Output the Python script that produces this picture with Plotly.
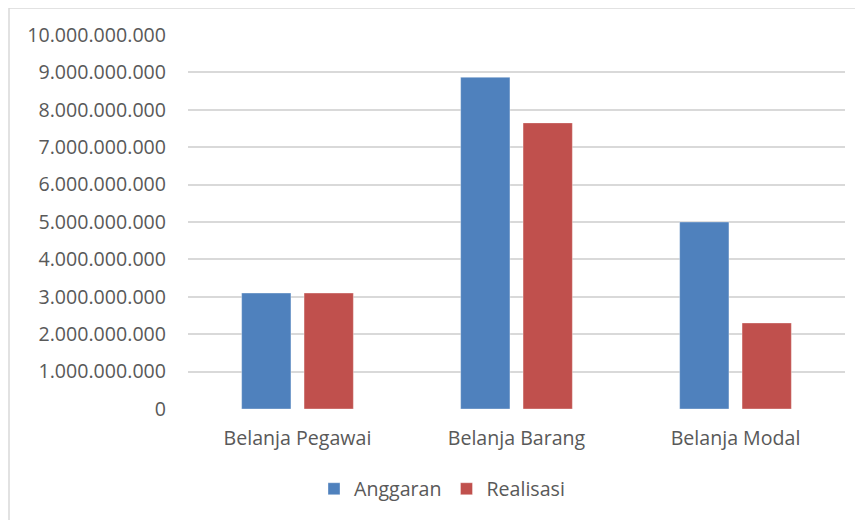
import plotly.graph_objects as go

categories = ["Belanja Pegawai", "Belanja Barang", "Belanja Modal"]
anggaran = [3100000000, 8870000000, 5000000000]
realisasi = [3100000000, 7650000000, 2300000000]
y_ticks = [i * 1000000000 for i in range(11)]

# page body adds an 8px offset; coordinates below are in figure space
OFF = 8
W, H = 863, 520
L, T = 188 - OFF, 35 - OFF
R = W - (845 - OFF)
B = H - (409 - OFF)
pw = W - L - R
ph = H - T - B

font = "Open Sans, DejaVu Sans, sans-serif"
txt = "#595959"
fs = 19.6

fig = go.Figure()
fig.add_trace(go.Bar(name="Anggaran", x=categories, y=anggaran,
                     marker=dict(color="#4F81BD", line=dict(color="rgba(255,255,255,0.35)", width=1))))
fig.add_trace(go.Bar(name="Realisasi", x=categories, y=realisasi,
                     marker=dict(color="#C0504D", line=dict(color="rgba(255,255,255,0.35)", width=1))))

def px(x):
    # x is a screen pixel
    return (x - OFF - L) / pw

def py(y):
    return (H - B - (y - OFF)) / ph

fig.update_layout(
    width=W, height=H,
    margin=dict(l=L, r=R, t=T, b=B, pad=0),
    paper_bgcolor="white", plot_bgcolor="white",
    separators=",.",
    barmode="group", bargap=0.43, bargroupgap=0.21,
    font=dict(family=font, size=fs, color=txt),
    showlegend=True,
    legend=dict(orientation="h", x=px(442), xanchor="center", y=py(489), yanchor="middle",
                font=dict(family=font, size=fs, color=txt), traceorder="normal"),
    xaxis=dict(showgrid=False, showline=False, ticks="", zeroline=False,
               tickfont=dict(family=font, size=fs, color=txt), ticklabelstandoff=15),
    yaxis=dict(range=[0, 10000000000], tickvals=y_ticks, tickformat=",d",
               showgrid=True, gridcolor="#D9D9D9", gridwidth=1.5, zeroline=False,
               showline=False, ticks="", ticklabelstandoff=21,
               tickfont=dict(family=font, size=fs, color=txt)),
    shapes=[dict(type="rect", xref="paper", yref="paper",
                 x0=px(9), x1=px(W + 20), y0=py(H + 20), y1=py(8),
                 line=dict(color="#D9D9D9", width=1.5), fillcolor="rgba(0,0,0,0)", layer="below")],
)

fig.write_html("out.html")
